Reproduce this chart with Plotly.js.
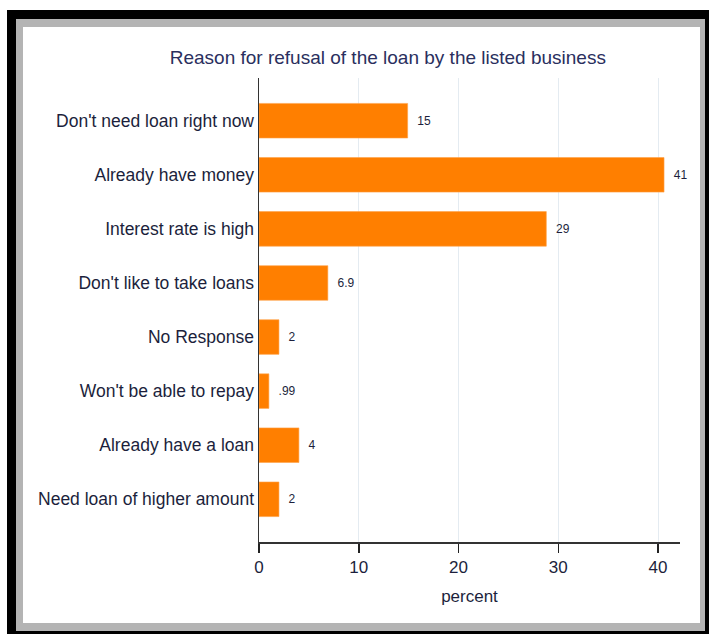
<!DOCTYPE html>
<html>
<head>
<meta charset="utf-8">
<script src="https://cdn.plot.ly/plotly-3.0.1.min.js"></script>
<style>
  html, body { margin: 0; padding: 0; background: #ffffff; width: 709px; height: 634px; overflow: hidden; }
  #frameBlack { position: absolute; left: 7px; top: 10px; width: 702px; height: 630px; background: #000; }
  #frameGrey { position: absolute; left: 16px; top: 19px; width: 689px; height: 612px; background: #b4b4b4; }
  #frameWhite { position: absolute; left: 23px; top: 27px; width: 677px; height: 596px; background: #fff; }
  #chart { position: absolute; left: 0; top: 0; width: 709px; height: 634px; }
</style>
</head>
<body>
<div id="frameBlack"></div>
<div id="frameGrey"></div>
<div id="frameWhite"></div>
<div id="chart"></div>
<script>
const categories = [
  "Don't need loan right now",
  "Already have money",
  "Interest rate is high",
  "Don't like to take loans",
  "No Response",
  "Won't be able to repay",
  "Already have a loan",
  "Need loan of higher amount"
];
const percents = [14.9, 40.6, 28.8, 6.9, 2.0, 0.99, 4.0, 2.0];
const valueLabels = ["15", "41", "29", "6.9", "2", ".99", "4", "2"];
const xTickValues = [0, 10, 20, 30, 40];

const FONT = "'Liberation Sans', Arial, sans-serif";
const TXT = "#1c1f3c";

const trace = {
  type: "bar",
  orientation: "h",
  y: categories,
  x: percents,
  text: valueLabels,
  texttemplate: "\u00a0\u00a0%{text}",
  textposition: "outside",
  cliponaxis: false,
  textfont: { family: FONT, size: 12, color: TXT },
  width: 0.64,
  marker: { color: "#ff7f00", line: { color: "#ffa24a", width: 0.6 } },
  hoverinfo: "x+y"
};

const layout = {
  width: 709,
  height: 634,
  paper_bgcolor: "rgba(0,0,0,0)",
  plot_bgcolor: "rgba(0,0,0,0)",
  margin: { l: 259, r: 29, t: 78, b: 92 },
  showlegend: false,
  title: {
    text: "Reason for refusal of the loan by the listed business",
    font: { family: FONT, size: 19, color: "#2a2f5e" },
    xref: "container", yref: "container",
    x: 0.547, xanchor: "center",
    y: 0.91, yanchor: "middle"
  },
  xaxis: {
    range: [0, 42.2],
    tickvals: xTickValues,
    ticktext: xTickValues.map(String),
    ticks: "outside",
    ticklen: 9,
    tickwidth: 1.5,
    tickcolor: "#222",
    showline: true,
    linecolor: "#333",
    linewidth: 1.5,
    showgrid: true,
    gridcolor: "#e4ebf1",
    gridwidth: 1,
    zeroline: false,
    tickfont: { family: FONT, size: 17, color: TXT },
    title: { text: "percent", font: { family: FONT, size: 17, color: TXT }, standoff: 14 }
  },
  yaxis: {
    type: "category",
    categoryorder: "array",
    categoryarray: categories,
    range: [7.79, -0.79],
    ticks: "",
    showline: true,
    linecolor: "#333",
    linewidth: 1.5,
    showgrid: false,
    zeroline: false,
    tickfont: { family: FONT, size: 17.5, color: TXT },
    ticklabelstandoff: 0
  }
};

Plotly.newPlot("chart", [trace], layout, { displayModeBar: false, staticPlot: true });
</script>
</body>
</html>
